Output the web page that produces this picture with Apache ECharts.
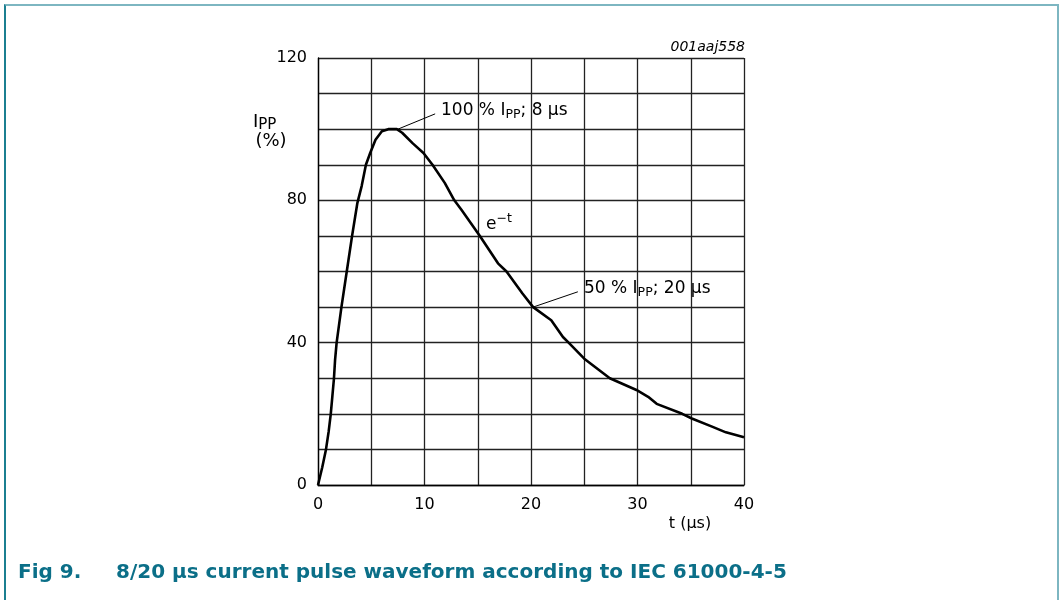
<!DOCTYPE html>
<html>
<head>
<meta charset="utf-8">
<script src="https://cdn.jsdelivr.net/npm/echarts@6/dist/echarts.min.js"></script>
<style>
  html, body { margin: 0; padding: 0; background: #fff; }
  #frame {
    position: absolute; left: 4px; top: 4px; width: 1051px; height: 600px;
    border-left: 2px solid #1b7f91; border-top: 2px solid #7db6c1; border-right: 2px solid #7db6c1;
  }
  #chart { position: absolute; left: 0; top: 0; width: 1059px; height: 600px; }
</style>
</head>
<body>
<div id="frame"></div>
<div id="chart"></div>
<script>
// 8/20 us pulse
const timeUs = [0, 0.4, 0.75, 1.0, 1.2, 1.35, 1.5, 1.6, 1.75, 2.2, 2.7, 3.2, 3.7, 4.1, 4.5, 4.9, 5.4, 6.0, 6.6, 7.4, 7.9, 8.9, 9.9, 10.75, 11.9, 12.8, 13.5, 15.2, 16.9, 17.7, 19.2, 20.2, 21.9, 23.0, 23.6, 25.0, 27.4, 29.9, 31.0, 31.8, 34.2, 35.1, 37.0, 38.3, 40]
const ippPercent = [0, 5, 10, 15, 20, 25, 30, 35, 40, 50, 60, 70, 79.3, 84, 90, 93.3, 97, 99.4, 100, 100, 99, 96, 93.3, 90, 84.9, 80, 77.2, 70, 62.3, 60, 53.8, 50, 46.3, 41.6, 39.8, 35.5, 30, 26.7, 24.8, 22.8, 20, 18.7, 16.4, 14.8, 13.4]

const xTickLabels = [0, 10, 20, 30, 40]
const yTickLabels = [0, 40, 80, 120]

// leader lines of the two annotations (data units)
const peakLeader = [[7.5, 100], [11, 104.3]]
const halfLeader = [[20.2, 50], [24.4, 54.3]]

const FONT = 'DejaVu Sans'
const chart = echarts.init(document.getElementById('chart'))

const subRich = {
  m: { fontSize: 17, fontFamily: FONT, fill: '#000', lineHeight: 19, verticalAlign: 'top' },
  s: { fontSize: 12.5, fontFamily: FONT, fill: '#000', lineHeight: 14, padding: [6, 0, 0, 0], verticalAlign: 'top' }
}
const axisNameRich = {
  m: { fontSize: 18, fontFamily: FONT, fill: '#000', lineHeight: 20, verticalAlign: 'top' },
  s: { fontSize: 15, fontFamily: FONT, fill: '#000', lineHeight: 16, padding: [5, 0, 0, 0], verticalAlign: 'top' }
}
const supRich = {
  m: { fontSize: 17, fontFamily: FONT, fill: '#000', lineHeight: 20, padding: [4, 0, 0, 0], verticalAlign: 'top' },
  s: { fontSize: 12.5, fontFamily: FONT, fill: '#000', lineHeight: 14, verticalAlign: 'top' }
}

const option = {
  animation: false,
  backgroundColor: 'transparent',
  grid: { left: 318, top: 58, width: 426, height: 427 },
  xAxis: {
    type: 'value', min: 0, max: 40, interval: 5,
    axisLine: { lineStyle: { color: '#000', width: 1.3 } },
    axisTick: { show: false },
    axisLabel: {
      margin: 12, color: '#000', fontSize: 16, fontFamily: FONT,
      formatter: v => xTickLabels.includes(v) ? String(v) : ''
    },
    splitLine: { show: true, lineStyle: { color: '#222', width: 1.3 } }
  },
  yAxis: {
    type: 'value', min: 0, max: 120, interval: 10,
    axisLine: { show: true, lineStyle: { color: '#000', width: 1.3 } },
    axisTick: { show: false },
    axisLabel: {
      margin: 11, color: '#000', fontSize: 16, fontFamily: FONT,
      formatter: v => yTickLabels.includes(v) ? String(v) : ''
    },
    splitLine: { show: true, lineStyle: { color: '#222', width: 1.3 } }
  },
  series: [{
    type: 'line',
    data: timeUs.map((t, i) => [t, ippPercent[i]]),
    symbol: 'none',
    lineStyle: { color: '#000', width: 2.6 },
    markLine: {
      silent: true,
      symbol: ['none', 'none'],
      label: { show: false },
      lineStyle: { color: '#000', width: 1, type: 'solid' },
      data: [
        [{ coord: peakLeader[0] }, { coord: peakLeader[1] }],
        [{ coord: halfLeader[0] }, { coord: halfLeader[1] }]
      ]
    }
  }],
  graphic: [
    { type: 'text', x: 745, y: 47, style: { text: '001aaj558', align: 'right', verticalAlign: 'middle', fontSize: 14, fontStyle: 'italic', fontFamily: FONT, fill: '#000' } },
    { type: 'text', x: 253, y: 113, style: { text: '{m|I}{s|PP}', rich: axisNameRich } },
    { type: 'text', x: 271, y: 141, style: { text: '(%)', align: 'center', verticalAlign: 'middle', fontSize: 18, fontFamily: FONT, fill: '#000' } },
    { type: 'text', x: 441, y: 102, style: { text: '{m|100 % I}{s|PP}{m|; 8 µs}', rich: subRich } },
    { type: 'text', x: 584, y: 280, style: { text: '{m|50 % I}{s|PP}{m|; 20 µs}', rich: subRich } },
    { type: 'text', x: 486, y: 212, style: { text: '{m|e}{s|−t}', rich: supRich } },
    { type: 'text', x: 690, y: 524, style: { text: 't (µs)', align: 'center', verticalAlign: 'middle', fontSize: 16, fontFamily: FONT, fill: '#000' } },
    { type: 'text', x: 18, y: 573, style: { text: 'Fig 9.', verticalAlign: 'middle', fontSize: 20, fontWeight: 'bold', fontFamily: FONT, fill: '#0b6f88' } },
    { type: 'text', x: 116, y: 573, style: { text: '8/20 µs current pulse waveform according to IEC 61000-4-5', verticalAlign: 'middle', fontSize: 20, fontWeight: 'bold', fontFamily: FONT, fill: '#0b6f88' } }
  ]
}

chart.setOption(option)
</script>
</body>
</html>
